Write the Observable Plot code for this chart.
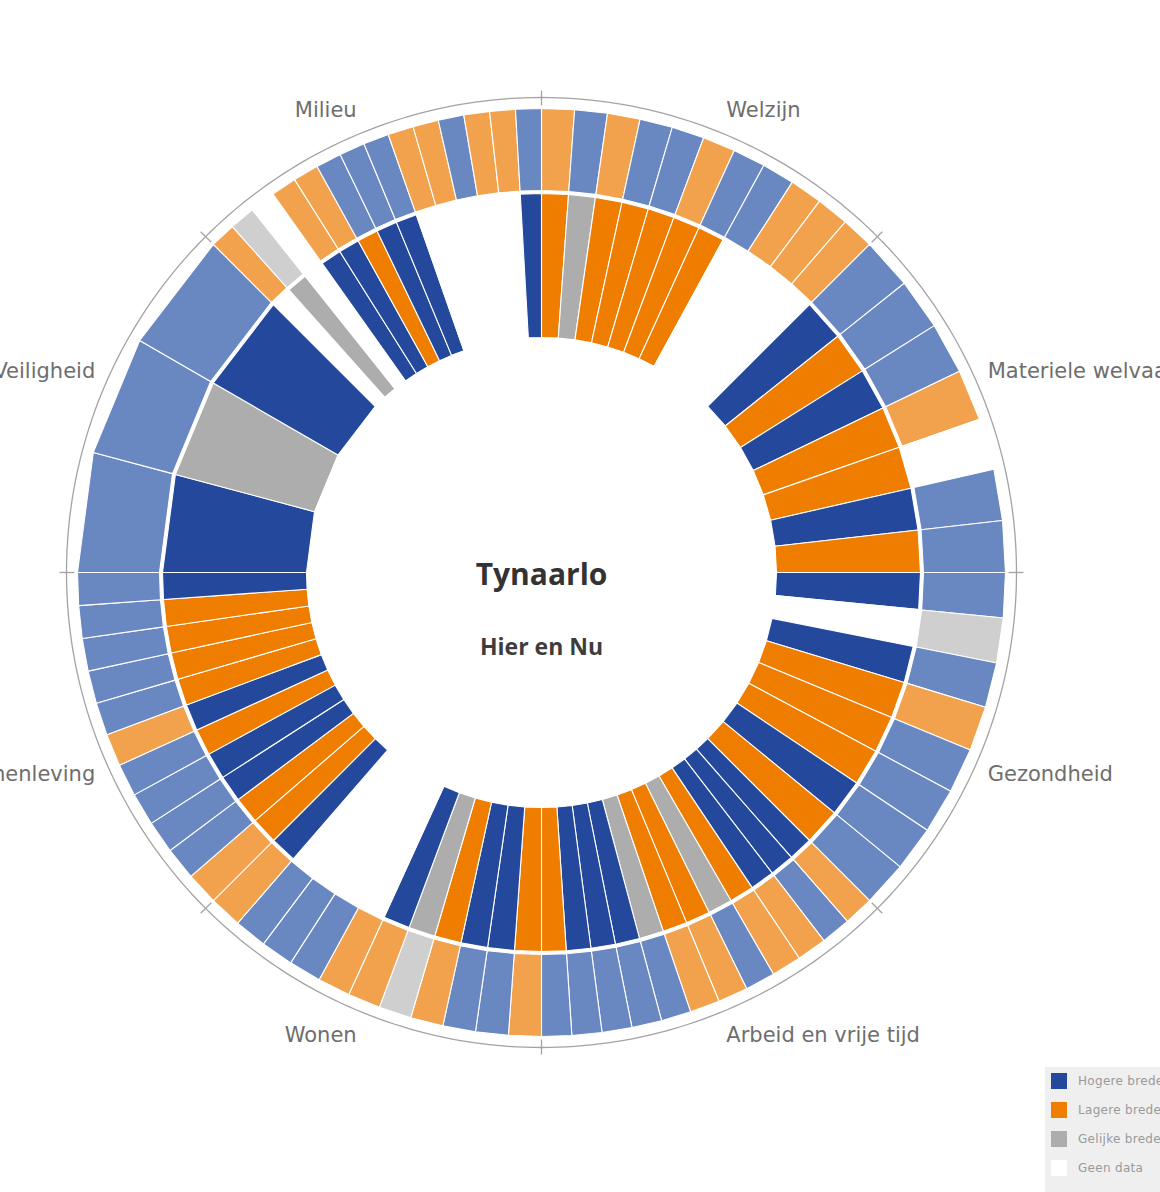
<!DOCTYPE html>
<html>
<head>
<meta charset="utf-8">
<script src="https://cdn.jsdelivr.net/npm/d3@7"></script>
<script src="https://cdn.jsdelivr.net/npm/@observablehq/plot@0.6"></script>
<style>
  html, body { margin: 0; padding: 0; background: #fff; }
  body { width: 1160px; height: 1192px; overflow: hidden; position: relative; font-family: "DejaVu Sans", sans-serif; }
  #legend { position: absolute; left: 1045px; top: 1067px; width: 160px; height: 140px; background: #efefef; }
  .item { position: absolute; left: 6px; height: 16px; white-space: nowrap; }
  .sw { position: absolute; left: 0; top: 0; width: 16px; height: 16px; }
  .lab { position: absolute; left: 27px; top: 0; line-height: 16px; font-size: 12px; color: #9a9a9a; letter-spacing: 0.3px; }
</style>
</head>
<body>
<div id="chart"></div>
<div id="legend"></div>
<script>
// ---- Data ----
const domainNames = ["Welzijn", "Materiele welvaart", "Gezondheid", "Arbeid en vrije tijd",
                     "Wonen", "Samenleving", "Veiligheid", "Milieu"];
// H = hogere, L = lagere, G = gelijke, N = geen data
const welzijnInner     = ["L","G","L","L","L","L","L","N","N","N","N"];
const welzijnOuter     = ["L","H","L","H","H","L","H","H","L","L","L"];
const materieleInner   = ["H","L","H","L","L","H","L"];
const materieleOuter   = ["H","H","H","L","N","H","H"];
const gezondheidInner  = ["H","N","H","L","L","L","H","L"];
const gezondheidOuter  = ["H","G","H","L","H","H","H","H"];
const arbeidInner      = ["H","H","H","L","G","L","L","G","H","H","H","L"];
const arbeidOuter      = ["L","H","L","L","H","L","L","H","H","H","H","H"];
const wonenInner       = ["L","H","H","L","G","H","N","N","N","N","H"];
const wonenOuter       = ["L","H","H","L","G","L","L","H","H","H","L"];
const samenlevingInner = ["L","L","H","H","L","H","L","L","L","L","H"];
const samenlevingOuter = ["L","H","H","H","H","L","H","H","H","H","H"];
const veiligheidInner  = ["H","G","H"];
const veiligheidOuter  = ["H","H","H"];
const milieuInner      = ["N","G","N","H","H","L","H","H","N","N","N","N","N","H"];
const milieuOuter      = ["L","G","N","L","L","H","H","H","L","L","H","L","L","H"];

const innerByDomain = [welzijnInner, materieleInner, gezondheidInner, arbeidInner,
                       wonenInner, samenlevingInner, veiligheidInner, milieuInner];
const outerByDomain = [welzijnOuter, materieleOuter, gezondheidOuter, arbeidOuter,
                       wonenOuter, samenlevingOuter, veiligheidOuter, milieuOuter];

const legendKeys   = ["H", "L", "G", "N"];
const legendLabels = ["Hogere brede welvaart", "Lagere brede welvaart", "Gelijke brede welvaart", "Geen data"];
const innerColors  = ["#24489b", "#ef7d00", "#adadad", "#ffffff"];
const outerColors  = ["#6987c1", "#f2a24c", "#cfcfcf", "#ffffff"];

const title = "Tynaarlo";
const subtitle = "Hier en Nu";

// ---- Geometry ----
const W = 1160, H = 1192, CX = 541, CY = 572;
const R_IN0 = 235, R_IN1 = 379, R_OUT0 = 382, R_OUT1 = 464, R_CIRCLE = 475;
const pt = (r, deg) => { const a = deg * Math.PI / 180; return {x: r * Math.sin(a), y: -r * Math.cos(a)}; };

const polys = [];
domainNames.forEach((name, k) => {
  const n = innerByDomain[k].length;
  const rings = [["in", innerByDomain[k], R_IN0, R_IN1], ["out", outerByDomain[k], R_OUT0, R_OUT1]];
  rings.forEach(([ring, vals, r0, r1]) => vals.forEach((v, i) => {
    const a0 = k * 45 + i * 45 / n, a1 = a0 + 45 / n;
    const id = `${ring}-${k}-${i}`, key = `${ring}:${v}`;
    [[r0, a0], [r1, a0], [r1, a1], [r0, a1]].forEach(([r, a]) => polys.push({id, key, ...pt(r, a)}));
  }));
});

const colorDomain = legendKeys.map(k => "in:" + k).concat(legendKeys.map(k => "out:" + k));
const colorRange = innerColors.concat(outerColors);

const circle = d3.range(0, 361, 1).map(a => pt(R_CIRCLE, a));
const ticks = domainNames.map((d, k) => {
  const p0 = pt(R_OUT1 + 3, k * 45), p1 = pt(R_CIRCLE + 7, k * 45);
  return {x1: p0.x, y1: p0.y, x2: p1.x, y2: p1.y};
});
const labels = domainNames.map((name, k) => ({name, k, ...pt(483, k * 45 + 22.5)}));
const labelMark = (filter, anchor, dy) => Plot.text(labels.filter(filter), {
  x: "x", y: "y", text: "name", textAnchor: anchor, dy, fontSize: 21, fill: "#6e6e6e",
  fontFamily: "DejaVu Sans", lineAnchor: "middle"
});

const chart = Plot.plot({
  width: W, height: H, margin: 0,
  style: {background: "white", fontFamily: "DejaVu Sans"},
  x: {domain: [-CX, W - CX], range: [0, W], axis: null},
  y: {domain: [-CY, H - CY], range: [0, H], axis: null},
  color: {domain: colorDomain, range: colorRange},
  marks: [
    Plot.line(polys, {x: "x", y: "y", z: "id", fill: "key", stroke: "#ffffff", strokeWidth: 1.1, curve: "linear-closed"}),
    Plot.line(circle, {x: "x", y: "y", stroke: "#a3a3a3", strokeWidth: 1.3}),
    Plot.link(ticks, {x1: "x1", y1: "y1", x2: "x2", y2: "y2", stroke: "#a3a3a3", strokeWidth: 1.3}),
    labelMark(d => d.k === 0 || d.k === 1, "start", -16),
    labelMark(d => d.k === 2 || d.k === 3, "start", 17),
    labelMark(d => d.k === 4 || d.k === 5, "end", 17),
    labelMark(d => d.k === 6 || d.k === 7, "end", -16),
    Plot.text([title], {x: () => 0, y: () => 0, text: d => d, dy: 3, fontSize: 30, fontWeight: "bold",
      fill: "#333333", fontFamily: "Open Sans", lineAnchor: "middle"}),
    Plot.text([subtitle], {x: () => 0, y: () => 0, text: d => d, dy: 75, fontSize: 23, fontWeight: "bold",
      fill: "#3d3d3d", fontFamily: "Open Sans", lineAnchor: "middle"})
  ]
});
document.getElementById("chart").appendChild(chart);

// ---- Legend ----
const legend = document.getElementById("legend");
legendKeys.forEach((k, i) => {
  const item = document.createElement("div");
  item.className = "item";
  item.style.top = (6 + i * 29) + "px";
  const sw = document.createElement("div");
  sw.className = "sw";
  sw.style.background = innerColors[i];
  const lab = document.createElement("div");
  lab.className = "lab";
  lab.textContent = legendLabels[i];
  item.appendChild(sw); item.appendChild(lab);
  legend.appendChild(item);
});
</script>
</body>
</html>
